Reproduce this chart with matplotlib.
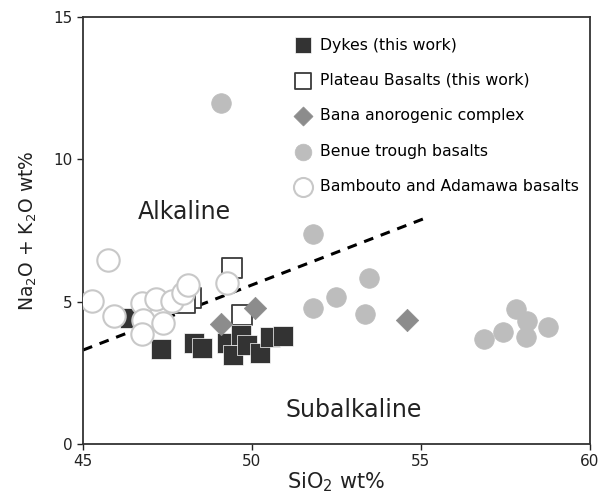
import matplotlib
matplotlib.use("Agg")
import matplotlib.pyplot as plt

# SiO2 (x) and Na2O + K2O (y), wt%
dykes_sio2 = [46.39, 47.31, 48.29, 48.51, 49.25, 49.67, 49.45, 49.84, 50.24, 50.53, 50.91]
dykes_alk = [4.42, 3.33, 3.56, 3.36, 3.54, 3.83, 3.13, 3.48, 3.21, 3.77, 3.79]

plateau_sio2 = [49.42, 48.21, 48.02, 49.70]
plateau_alk = [6.17, 5.12, 4.95, 4.53]

bana_sio2 = [49.08, 50.09, 54.58]
bana_alk = [4.20, 4.77, 4.36]

benue_sio2 = [49.07, 51.81, 53.47, 52.49, 51.81, 53.34, 57.83, 58.15, 58.77, 57.43, 56.86, 58.10]
benue_alk = [11.99, 7.38, 5.84, 5.16, 4.77, 4.57, 4.73, 4.32, 4.12, 3.92, 3.70, 3.75]

bamb_sio2 = [45.75, 45.27, 45.93, 46.75, 47.16, 47.64, 47.97, 48.12, 49.25, 46.78, 47.38, 46.75]
bamb_alk = [6.46, 5.02, 4.50, 4.94, 5.09, 5.03, 5.29, 5.58, 5.67, 4.36, 4.24, 3.86]

# alkaline / subalkaline divide
divide_sio2 = [45.0, 55.12]
divide_alk = [3.30, 7.93]

x_ticks = [45, 50, 55, 60]
y_ticks = [0, 5, 10, 15]

plt.rcParams['font.family'] = ['DejaVu Sans']
plt.rcParams['mathtext.default'] = 'regular'

fig = plt.figure(figsize=(5.99, 4.94), dpi=100)
ax = fig.add_axes([0.1386, 0.1012, 0.846, 0.8644])

ax.plot(divide_sio2, divide_alk, color='black', lw=2.2, ls=(0, (3.2, 2.6)), zorder=1)

ax.scatter(plateau_sio2, plateau_alk, marker='s', s=190, facecolor='white',
           edgecolor='#3a3a3a', linewidth=1.3, zorder=2, label='Plateau Basalts (this work)')
ax.scatter(dykes_sio2, dykes_alk, marker='s', s=200, facecolor='#333333',
           edgecolor='white', linewidth=0.5, zorder=3, label='Dykes (this work)')
ax.scatter(bana_sio2, bana_alk, marker='D', s=130, facecolor='#8c8c8c',
           edgecolor='#8c8c8c', linewidth=0.5, zorder=4, label='Bana anorogenic complex')
ax.scatter(benue_sio2, benue_alk, marker='o', s=200, facecolor='#bdbdbd',
           edgecolor='#bdbdbd', linewidth=0.5, zorder=4, label='Benue trough basalts')
ax.scatter(bamb_sio2, bamb_alk, marker='o', s=260, facecolor='white',
           edgecolor='#c8c8c8', linewidth=1.5, zorder=5, label='Bambouto and Adamawa basalts')

ax.text(46.63, 8.15, 'Alkaline', fontsize=17, color='#222222', va='center', ha='left')
ax.text(50.98, 1.19, 'Subalkaline', fontsize=17, color='#222222', va='center', ha='left')

ax.set_xlim(45, 60)
ax.set_ylim(0, 15)
ax.set_xticks(x_ticks)
ax.set_yticks(y_ticks)
ax.tick_params(direction='out', length=4, width=1, labelsize=11, colors='#222222')
for sp in ax.spines.values():
    sp.set_linewidth(1.3)
    sp.set_color('#333333')

ax.set_xlabel('SiO$_2$ wt%', fontsize=15, color='#222222', labelpad=1)
ax.set_ylabel('Na$_2$O + K$_2$O wt%', fontsize=13.5, color='#222222', labelpad=10)

handles, labels = ax.get_legend_handles_labels()
order = [1, 0, 2, 3, 4]
leg = ax.legend([handles[i] for i in order], [labels[i] for i in order],
                loc='upper left', bbox_to_anchor=(0.375, 0.985), frameon=False,
                fontsize=11.3, labelspacing=1.3, handletextpad=0.1, markerscale=0.85)

fig.savefig('out.png', dpi=100)
